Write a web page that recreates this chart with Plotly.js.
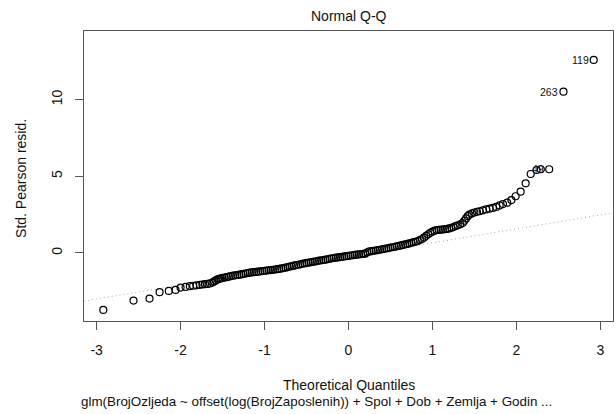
<!DOCTYPE html>
<html>
<head>
<meta charset="utf-8">
<script src="https://cdn.plot.ly/plotly-3.0.1.min.js"></script>
<style>html,body{margin:0;padding:0;background:#fff;}#chart{width:616px;height:414px;}</style>
</head>
<body>
<div id="chart"></div>
<script>
// Theoretical quantiles (x) and standardized Pearson residuals (y)
var theoQuant = [
 -2.92,-2.56,-2.37,-2.25,-2.14,-2.06,-2.00,-1.94,-1.89,-1.85,-1.81,-1.77,-1.74,-1.71,-1.68,-1.65,-1.62,-1.60,-1.58,-1.56,-1.54,-1.52,
 -1.500,-1.475,-1.450,-1.425,-1.400,-1.375,-1.350,-1.325,-1.300,-1.275,-1.250,-1.225,-1.200,-1.175,-1.150,-1.125,-1.100,-1.075,-1.050,-1.025,
 -1.000,-0.975,-0.950,-0.925,-0.900,-0.875,-0.850,-0.825,-0.800,-0.775,-0.750,-0.725,-0.700,-0.675,-0.650,-0.625,-0.600,-0.575,-0.550,-0.525,
 -0.500,-0.475,-0.450,-0.425,-0.400,-0.375,-0.350,-0.325,-0.300,-0.275,-0.250,-0.225,-0.200,-0.175,-0.150,-0.125,-0.100,-0.075,-0.050,-0.025,
 0.000,0.025,0.050,0.075,0.100,0.125,0.150,0.175,0.200,0.225,0.250,0.275,0.300,0.325,0.350,0.375,0.400,0.425,0.450,0.475,
 0.500,0.525,0.550,0.575,0.600,0.625,0.650,0.675,0.700,0.725,0.750,0.775,0.800,0.825,0.850,0.875,0.900,0.925,0.950,0.975,
 1.000,1.025,1.050,1.075,1.100,1.125,1.150,1.175,1.200,1.225,1.250,1.275,1.300,
 1.33,1.36,1.38,1.40,1.42,1.44,1.47,1.50,1.53,1.56,1.60,1.64,1.68,1.72,1.76,1.80,1.84,1.89,1.94,1.99,2.05,2.11,2.17,2.24,2.29,2.39,2.56,2.92
];
var stdResid = [
 -3.72,-3.11,-2.98,-2.56,-2.48,-2.41,-2.26,-2.22,-2.17,-2.14,-2.11,-2.08,-2.06,-2.04,-2.02,-1.99,-1.93,-1.86,-1.79,-1.73,-1.69,-1.66,
 -1.63,-1.61,-1.58,-1.55,-1.51,-1.48,-1.46,-1.44,-1.42,-1.40,-1.37,-1.34,-1.31,-1.29,-1.27,-1.25,-1.24,-1.22,-1.20,-1.18,
 -1.16,-1.15,-1.13,-1.12,-1.10,-1.08,-1.06,-1.04,-1.01,-0.99,-0.96,-0.92,-0.89,-0.86,-0.83,-0.80,-0.77,-0.74,-0.71,-0.68,
 -0.66,-0.63,-0.61,-0.58,-0.56,-0.53,-0.50,-0.48,-0.46,-0.44,-0.41,-0.38,-0.35,-0.33,-0.31,-0.29,-0.27,-0.25,-0.23,-0.21,
 -0.19,-0.17,-0.15,-0.13,-0.11,-0.09,-0.08,-0.06,-0.04,0.04,0.10,0.12,0.14,0.16,0.19,0.21,0.24,0.27,0.29,0.32,
 0.35,0.37,0.40,0.43,0.46,0.49,0.52,0.56,0.59,0.62,0.66,0.70,0.73,0.78,0.84,0.91,1.00,1.12,1.22,1.31,
 1.39,1.45,1.49,1.50,1.52,1.53,1.55,1.57,1.60,1.64,1.69,1.75,1.80,
 1.87,1.95,2.10,2.25,2.40,2.50,2.58,2.64,2.68,2.72,2.78,2.84,2.89,2.94,3.00,3.10,3.19,3.28,3.45,3.70,4.00,4.54,5.15,5.41,5.46,5.46,10.52,12.59
];
// Labelled extreme observations
var idLabels = ["49", "263", "119"];
var idX = [2.39, 2.56, 2.92];
var idY = [5.46, 10.52, 12.59];
// Reference line (qqline) endpoints
var refX = [-3.15, 3.15];
var refY = [-3.14, 2.62];

var xTicks = [-3, -2, -1, 0, 1, 2, 3];
var yTicks = [0, 5, 10];

var FONT = 'Liberation Sans, Arial, sans-serif';
var TXT = '#111111';

var traces = [
  {x: refX, y: refY, mode: 'lines', type: 'scatter',
   line: {color: '#a8a8a8', width: 1, dash: '1px,3px'}, hoverinfo: 'skip', showlegend: false},
  {x: theoQuant, y: stdResid, mode: 'markers', type: 'scatter',
   marker: {symbol: 'circle-open', size: 7, color: '#000', line: {width: 1.2, color: '#000'}},
   showlegend: false}
];

var annotations = idLabels.map(function (t, i) {
  return {x: idX[i], y: idY[i], xref: 'x', yref: 'y', text: t, showarrow: false,
          xanchor: 'right', yanchor: 'middle', xshift: -3,
          font: {family: FONT, size: 10.5, color: TXT}};
});
annotations.push(
  {text: 'Normal Q-Q', xref: 'paper', yref: 'paper', x: 0.5, y: 1.05, xanchor: 'center', yanchor: 'middle',
   showarrow: false, font: {family: FONT, size: 14, color: TXT}},
  {text: 'Theoretical Quantiles', xref: 'paper', yref: 'paper', x: 0.5, y: -0.222, xanchor: 'center', yanchor: 'middle',
   showarrow: false, font: {family: FONT, size: 14, color: TXT}},
  {text: 'glm(BrojOzljeda ~ offset(log(BrojZaposlenih)) + Spol + Dob + Zemlja + Godin ...',
   xref: 'paper', yref: 'paper', x: 0.4386, y: -0.2776, xanchor: 'center', yanchor: 'middle',
   showarrow: false, font: {family: FONT, size: 13.4, color: TXT}},
  {text: 'Std. Pearson resid.', xref: 'paper', yref: 'paper', x: -0.119, y: 0.49, xanchor: 'center', yanchor: 'middle',
   textangle: -90, showarrow: false, font: {family: FONT, size: 14, color: TXT}}
);

var layout = {
  width: 616, height: 414,
  margin: {l: 84, r: 3, t: 31, b: 93, pad: 0},
  paper_bgcolor: '#ffffff', plot_bgcolor: '#ffffff',
  showlegend: false,
  xaxis: {range: [-3.15, 3.15], tickvals: xTicks, ticktext: xTicks.map(String),
          showgrid: false, zeroline: false, showline: true, mirror: true, linecolor: '#555', linewidth: 1,
          ticks: 'outside', ticklen: 8, tickcolor: '#555', tickwidth: 1,
          tickfont: {family: FONT, size: 14, color: TXT}, ticklabelstandoff: 8},
  yaxis: {range: [-4.44, 14.48], tickvals: yTicks, ticktext: yTicks.map(String), tickangle: -90,
          showgrid: false, zeroline: false, showline: true, mirror: true, linecolor: '#555', linewidth: 1,
          ticks: 'outside', ticklen: 8, tickcolor: '#555', tickwidth: 1,
          tickfont: {family: FONT, size: 14, color: TXT}, ticklabelstandoff: 7},
  annotations: annotations
};

Plotly.newPlot('chart', traces, layout, {displayModeBar: false, staticPlot: true});
</script>
</body>
</html>
